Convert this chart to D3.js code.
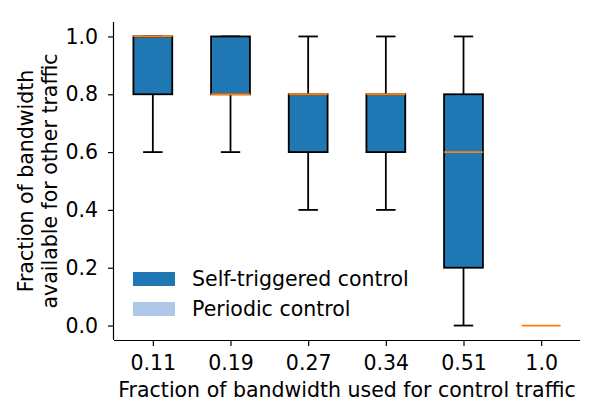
<!DOCTYPE html>
<html>
<head>
<meta charset="utf-8">
<script src="https://cdn.jsdelivr.net/npm/d3@7"></script>
<style>
  body { margin: 0; background: #fff; }
  text { font-family: "DejaVu Sans", sans-serif; }
</style>
</head>
<body>
<div id="chart"></div>
<script>
// box plot stats
const categories = ["0.11", "0.19", "0.27", "0.34", "0.51", "1.0"];
const whiskerLow = [0.6, 0.6, 0.4, 0.4, 0.0, 0.0];
const q1 = [0.8, 0.8, 0.6, 0.6, 0.2, 0.0];
const median = [1.0, 0.8, 0.8, 0.8, 0.6, 0.0];
const q3 = [1.0, 1.0, 0.8, 0.8, 0.8, 0.0];
const whiskerHigh = [1.0, 1.0, 1.0, 1.0, 1.0, 0.0];
const yTicks = [0.0, 0.2, 0.4, 0.6, 0.8, 1.0];
const legendLabels = ["Self-triggered control", "Periodic control"];

const width = 602, height = 419,
  margin = ({top: 22, right: 22, bottom: 79, left: 114});
const fs = 20.5;

const boxes = categories.map((c, i) => ({
  cat: c, lo: whiskerLow[i], q1: q1[i], med: median[i], q3: q3[i], hi: whiskerHigh[i]
}));

const x = d3.scalePoint()
  .domain(categories)
  .range([margin.left, width - margin.right])
  .padding(0.5);

const y = d3.scaleLinear()
  .domain([-0.05, 1.05])
  .range([height - margin.bottom, margin.top]);

const boxW = x.step() * 0.5;
const capW = boxW * 0.5;

const color = d3.scaleOrdinal()
  .domain(legendLabels)
  .range(["#1f77b4", "#aec7e8"]);

const svg = d3.select("#chart")
  .append("svg")
  .attr("width", width)
  .attr("height", height);

const g = svg.append("g")
  .selectAll("g")
  .data(boxes)
  .join("g")
    .attr("transform", d => `translate(${x(d.cat)},0)`);

// whiskers
g.append("line")
  .attr("y1", d => y(d.q1)).attr("y2", d => y(d.lo))
  .attr("stroke", "#000").attr("stroke-width", 1.8);
g.append("line")
  .attr("y1", d => y(d.q3)).attr("y2", d => y(d.hi))
  .attr("stroke", "#000").attr("stroke-width", 1.8);
// caps
g.filter(d => d.hi > d.lo).append("line")
  .attr("x1", -capW / 2).attr("x2", capW / 2)
  .attr("y1", d => y(d.lo)).attr("y2", d => y(d.lo))
  .attr("stroke", "#000").attr("stroke-width", 1.8);
g.filter(d => d.hi > d.lo).append("line")
  .attr("x1", -capW / 2).attr("x2", capW / 2)
  .attr("y1", d => y(d.hi)).attr("y2", d => y(d.hi))
  .attr("stroke", "#000").attr("stroke-width", 1.8);

// boxes
g.filter(d => d.q3 > d.q1).append("rect")
  .attr("x", -boxW / 2)
  .attr("width", boxW)
  .attr("y", d => y(d.q3))
  .attr("height", d => y(d.q1) - y(d.q3))
  .attr("fill", color(legendLabels[0]))
  .attr("stroke", "#000")
  .attr("stroke-width", 1.8);

// medians
g.append("line")
  .attr("x1", -boxW / 2).attr("x2", boxW / 2)
  .attr("y1", d => y(d.med)).attr("y2", d => y(d.med))
  .attr("stroke", "#ff7f0e").attr("stroke-width", 1.8);

// axes
const xAxis = gg => gg
  .attr("transform", `translate(0,${height - margin.bottom})`)
  .call(d3.axisBottom(x).tickSize(6).tickSizeOuter(0))
  .call(gg => gg.select(".domain").attr("d", `M${margin.left},0.5H${width - margin.right}`))
  .call(gg => gg.selectAll("text")
    .attr("font-size", fs).attr("font-family", "DejaVu Sans").attr("fill", "#000")
    .attr("y", 30).attr("dy", null));

const yAxis = gg => gg
  .attr("transform", `translate(${margin.left},0)`)
  .call(d3.axisLeft(y).tickValues(yTicks).tickFormat(d3.format(".1f")).tickSize(6).tickPadding(10).tickSizeOuter(0))
  .call(gg => gg.select(".domain").attr("d", `M-0.5,${margin.top}V${height - margin.bottom}`))
  .call(gg => gg.selectAll("text").attr("font-size", fs).attr("font-family", "DejaVu Sans").attr("fill", "#000"));

svg.append("g").call(xAxis);
svg.append("g").call(yAxis);
svg.selectAll(".tick line").attr("stroke-width", 1.2);
svg.selectAll(".domain").attr("stroke-width", 1.2);

// axis labels
svg.append("text")
  .attr("x", (margin.left + width - margin.right) / 2)
  .attr("y", 397)
  .attr("text-anchor", "middle")
  .attr("font-size", fs)
  .text("Fraction of bandwidth used for control traffic");

const yl = svg.append("text")
  .attr("transform", `translate(0,${(margin.top + height - margin.bottom) / 2}) rotate(-90)`)
  .attr("text-anchor", "middle")
  .attr("font-size", fs);
yl.append("tspan").attr("x", 0).attr("y", 33).text("Fraction of bandwidth");
yl.append("tspan").attr("x", 0).attr("y", 57).text("available for other traffic");

// legend
const lg = svg.append("g")
  .selectAll("g")
  .data(legendLabels)
  .join("g")
    .attr("transform", (d, i) => `translate(133,${272 + i * 30})`);
lg.append("rect")
  .attr("width", 42)
  .attr("height", 14)
  .attr("fill", color);
lg.append("text")
  .attr("x", 59)
  .attr("y", 14)
  .attr("font-size", fs)
  .text(d => d);
</script>
</body>
</html>
